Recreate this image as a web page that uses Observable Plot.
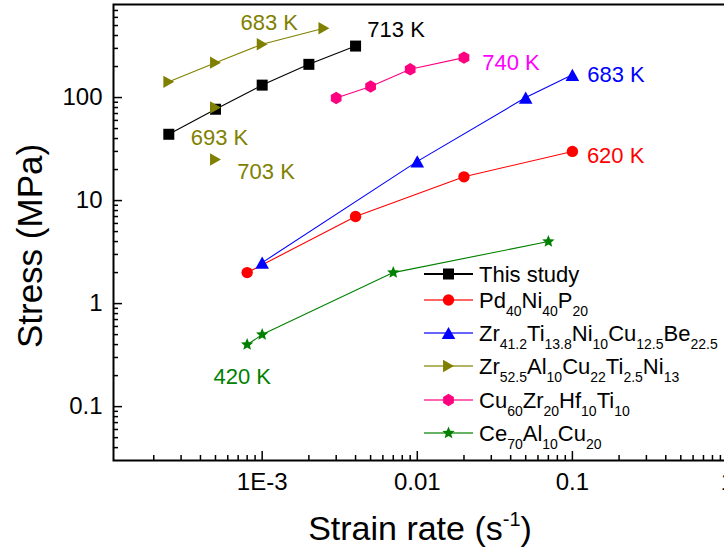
<!DOCTYPE html>
<html><head><meta charset="utf-8">
<script src="https://cdn.jsdelivr.net/npm/d3@7"></script>
<script src="https://cdn.jsdelivr.net/npm/@observablehq/plot@0.6"></script>
<style>
html,body{margin:0;padding:0;background:#fff;overflow:hidden;width:724px;height:557px}
#chart svg{max-width:none !important;display:block}
</style></head><body><div id="chart"></div>
<script>
// ---------- data (strain rate in 1/s, stress in MPa) ----------
const thisStudyX = [2.5e-4, 5e-4, 1e-3, 2e-3, 4e-3];
const thisStudyY = [44, 77, 132, 210, 316];
const pdX = [8e-4, 4e-3, 0.02, 0.1];
const pdY = [2, 7, 17, 30];
const zr41X = [1e-3, 0.01, 0.05, 0.1];
const zr41Y = [2.5, 24, 100, 166];
const zr52X = [2.5e-4, 5e-4, 1e-3, 2.5e-3];
const zr52Y = [142, 218, 329, 470];
const zr52ExtraX = [5e-4, 5e-4];
const zr52ExtraY = [80, 25];
const cuX = [3e-3, 5e-3, 9e-3, 0.02];
const cuY = [99, 128, 188, 244];
const ceX = [8e-4, 1e-3, 7e-3, 0.07];
const ceY = [0.4, 0.5, 2, 4];

const xTickValues = [1e-3, 0.01, 0.1, 1];
const xTickLabels = ["1E-3", "0.01", "0.1", "1"];
const yTickValues = [0.1, 1, 10, 100];
const yTickLabels = ["0.1", "1", "10", "100"];

const annoText  = ["683 K", "693 K", "703 K", "713 K", "740 K", "683 K", "620 K", "420 K"];
const annoX     = [1.11e-3, 5.3e-4, 1.06e-3, 7.3e-3, 0.0402, 0.191, 0.19, 7.43e-4];
const annoY     = [535, 40.5, 19.1, 457, 219, 167, 27.3, 0.195];
const annoColor = ["#808000", "#808000", "#808000", "#000000", "#ff00ff", "#0000ff", "#ff0000", "#008000"];

const seriesColors = {thisStudy: "#000000", pd: "#ff0000", zr41: "#0000ff", zr52: "#808000", cu: "#ff0080", ce: "#008000"};

// ---------- layout ----------
const FONT = '"Liberation Sans", Arial, Helvetica, sans-serif';
const W = 740, H = 557, ML = 113, MR = 13, MT = 4, MB = 97;
const FW = W - ML - MR, FH = H - MT - MB;

// ---------- symbols (half-extent = sqrt(size/PI)) ----------
const hOf = s => Math.sqrt(s / Math.PI);
const symSquare = {draw(c, s) { const h = hOf(s); c.rect(-h, -h, 2 * h, 2 * h); }};
const symTriUp = {draw(c, s) { const h = hOf(s), v = h * 0.9; c.moveTo(0, -v); c.lineTo(h, v); c.lineTo(-h, v); c.closePath(); }};
const symTriRight = {draw(c, s) { const h = hOf(s), u = h * 0.88; c.moveTo(u, 0); c.lineTo(-u, -h); c.lineTo(-u, h); c.closePath(); }};
const symHex = {draw(c, s) { const h = hOf(s); for (let k = 0; k < 6; k++) { const a = -Math.PI / 2 + k * Math.PI / 3; const px = h * Math.cos(a), py = h * Math.sin(a); k ? c.lineTo(px, py) : c.moveTo(px, py); } c.closePath(); }};
const symStar = {draw(c, s) { const R = hOf(s), r = R * 0.45; for (let k = 0; k < 10; k++) { const a = -Math.PI / 2 + k * Math.PI / 5; const rr = k % 2 ? r : R; const px = rr * Math.cos(a), py = rr * Math.sin(a); k ? c.lineTo(px, py) : c.moveTo(px, py); } c.closePath(); }};
const symCircle = {draw(c, s) { const h = hOf(s); c.moveTo(h, 0); c.arc(0, 0, h, 0, 2 * Math.PI); }};

const pts = (xs, ys) => xs.map((x, i) => ({x, y: ys[i]}));
const series = [
  {key: "thisStudy", data: pts(thisStudyX, thisStudyY), sym: symSquare, r: 5.5},
  {key: "pd", data: pts(pdX, pdY), sym: symCircle, r: 5.7},
  {key: "zr41", data: pts(zr41X, zr41Y), sym: symTriUp, r: 6.8},
  {key: "zr52", data: pts(zr52X, zr52Y), sym: symTriRight, r: 6.2},
  {key: "cu", data: pts(cuX, cuY), sym: symHex, r: 6.2},
  {key: "ce", data: pts(ceX, ceY), sym: symStar, r: 6.5}
];

// minor ticks
const xMinor = [], yMinor = [];
for (const d of [1e-4, 1e-3, 1e-2, 1e-1]) for (let k = 2; k <= 9; k++) { const v = k * d; if (v > 1.1e-4 && v < 1) xMinor.push(v); }
for (const d of [1e-2, 1e-1, 1, 10, 100]) for (let k = 2; k <= 9; k++) { const v = k * d; if (v > 0.03 && v < 800) yMinor.push(v); }

const marks = [];
for (const s of series) marks.push(Plot.line(s.data, {x: "x", y: "y", stroke: seriesColors[s.key], strokeWidth: 1.1}));
for (const s of series) marks.push(Plot.dot(s.data, {x: "x", y: "y", symbol: s.sym, r: s.r, fill: seriesColors[s.key], stroke: "none"}));
marks.push(Plot.dot(pts(zr52ExtraX, zr52ExtraY), {x: "x", y: "y", symbol: symTriRight, r: 6.2, fill: seriesColors.zr52, stroke: "none"}));

marks.push(Plot.text(annoText.map((t, i) => ({t, x: annoX[i], y: annoY[i], c: annoColor[i]})),
  {x: "x", y: "y", text: "t", fill: d => d.c, fontSize: 22, textAnchor: "middle", lineAnchor: "middle"}));

// ticks (inward)
marks.push(Plot.tickX(xMinor, {x: d => d, insetTop: FH - 5, stroke: "black", strokeWidth: 1.5}));
marks.push(Plot.tickX(xTickValues, {x: d => d, insetTop: FH - 9, stroke: "black", strokeWidth: 1.5}));
marks.push(Plot.tickY(yMinor, {y: d => d, insetRight: FW - 5, stroke: "black", strokeWidth: 1.5}));
marks.push(Plot.tickY(yTickValues, {y: d => d, insetRight: FW - 9, stroke: "black", strokeWidth: 1.5}));
marks.push(Plot.axisX({ticks: xTickValues, tickFormat: d => xTickLabels[xTickValues.indexOf(d)], tickSize: 0, tickPadding: 12, label: null, fontSize: 24}));
marks.push(Plot.axisY({ticks: yTickValues, tickFormat: d => yTickLabels[yTickValues.indexOf(d)], tickSize: 0, tickPadding: 11, label: null, fontSize: 24}));
marks.push(Plot.frame({stroke: "black", strokeWidth: 2}));

const plot = Plot.plot({
  width: W, height: H,
  marginLeft: ML, marginRight: MR, marginTop: MT, marginBottom: MB,
  x: {type: "log", domain: [1.1e-4, 1]},
  y: {type: "log", domain: [0.03, 800]},
  style: {fontFamily: FONT, fontSize: "24px", color: "black", background: "white", maxWidth: "none"},
  marks
});
document.getElementById("chart").appendChild(plot);

// ---------- axis titles & legend (text with sub/superscripts) ----------
const svg = d3.select(plot);
const ns = FONT;
const xt = svg.append("text").attr("x", (ML + W - MR) / 2).attr("y", 540).attr("text-anchor", "middle")
  .attr("font-family", ns).attr("font-size", 34).attr("fill", "black");
xt.append("tspan").text("Strain rate (s");
xt.append("tspan").attr("dy", -14).attr("font-size", 20).text("-1");
xt.append("tspan").attr("dy", 14).text(")");

svg.append("text").attr("transform", "translate(42,246) rotate(-90)").attr("text-anchor", "middle")
  .attr("font-family", ns).attr("font-size", 35).attr("fill", "black").text("Stress (MPa)");

const legendLabels = [
  [["This study", ""]],
  [["Pd", "40"], ["Ni", "40"], ["P", "20"]],
  [["Zr", "41.2"], ["Ti", "13.8"], ["Ni", "10"], ["Cu", "12.5"], ["Be", "22.5"]],
  [["Zr", "52.5"], ["Al", "10"], ["Cu", "22"], ["Ti", "2.5"], ["Ni", "13"]],
  [["Cu", "60"], ["Zr", "20"], ["Hf", "10"], ["Ti", "10"]],
  [["Ce", "70"], ["Al", "10"], ["Cu", "20"]]
];
const legendRowY = [274, 300, 333, 366, 400, 433];
const lg = svg.append("g").attr("text-anchor", "start");
series.forEach((s, i) => {
  const y = legendRowY[i], col = seriesColors[s.key];
  lg.append("line").attr("x1", 424).attr("x2", 473).attr("y1", y).attr("y2", y)
    .attr("stroke", col).attr("stroke-width", 1.8).attr("stroke-opacity", s.key === "thisStudy" ? 1 : 0.6);
  lg.append("path").attr("transform", `translate(448.5,${y})`)
    .attr("d", d3.symbol(s.sym, s.r * s.r * Math.PI)()).attr("fill", col);
  const t = lg.append("text").attr("x", 479).attr("y", y + 7.5).attr("text-anchor", "start")
    .attr("font-family", ns).attr("font-size", 22).attr("fill", "black");
  let shifted = false;
  for (const [main, sub] of legendLabels[i]) {
    const m = t.append("tspan").text(main);
    if (shifted) m.attr("dy", -8);
    shifted = false;
    if (sub) { t.append("tspan").attr("dy", 8).attr("font-size", 14).text(sub); shifted = true; }
  }
});
</script></body></html>
